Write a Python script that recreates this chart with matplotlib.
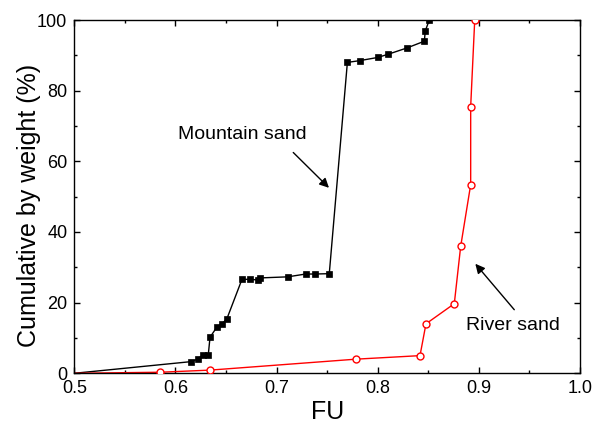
import matplotlib
matplotlib.use('Agg')
import matplotlib.pyplot as plt
from matplotlib.ticker import MultipleLocator

plt.rcParams['font.family'] = ['Liberation Sans', 'DejaVu Sans']

# --- данные ---
mountain_fu = [0.5, 0.6154, 0.622, 0.6275, 0.6325, 0.6342, 0.6408, 0.6457, 0.6507,
               0.6658, 0.6737, 0.682, 0.684, 0.711, 0.7288, 0.738, 0.7521,
               0.770, 0.7822, 0.800, 0.8102, 0.829, 0.8461, 0.847, 0.851]
mountain_cum = [0.0, 3.3, 4.0, 5.3, 5.3, 10.2, 13.0, 14.0, 15.3,
                26.6, 26.6, 26.4, 27.0, 27.3, 28.1, 28.1, 28.2,
                88.0, 88.5, 89.4, 90.3, 92.1, 94.0, 96.9, 100.0]

river_fu = [0.5, 0.5847, 0.6342, 0.7785, 0.8418, 0.8477, 0.8757, 0.882, 0.8919, 0.8919, 0.8959]
river_cum = [0.0, 0.3, 0.9, 4.0, 5.0, 14.0, 19.7, 35.9, 53.4, 75.5, 100.0]

fig = plt.figure(figsize=(6, 4.23), dpi=100)
ax = fig.add_axes([0.1238, 0.1175, 0.8429, 0.8352])

# линии от (0.5, 0) без маркера в начале
ax.plot(mountain_fu, mountain_cum, color='black', lw=1, zorder=2)
ax.plot(mountain_fu[1:], mountain_cum[1:], ls='none', marker='s', ms=4.8,
        mfc='black', mec='black', mew=0.5, zorder=3)
ax.plot(river_fu, river_cum, color='red', lw=1, zorder=2)
ax.plot(river_fu[1:], river_cum[1:], ls='none', marker='o', ms=5,
        mfc='white', mec='red', mew=1, zorder=3)

ax.set_xlim(0.5, 1.0)
ax.set_ylim(0, 100)
ax.xaxis.set_major_locator(MultipleLocator(0.1))
ax.xaxis.set_minor_locator(MultipleLocator(0.05))
ax.yaxis.set_major_locator(MultipleLocator(20))
ax.yaxis.set_minor_locator(MultipleLocator(10))
ax.set_xticklabels([f'{v:.1f}' for v in ax.get_xticks()])
ax.tick_params(which='both', direction='in', top=True, right=True, labelsize=13, width=1, pad=5)
ax.tick_params(which='major', length=4)
ax.tick_params(which='minor', length=2.5)
for s in ax.spines.values():
    s.set_linewidth(1)

ax.set_xlabel('FU', fontsize=18, labelpad=2)
ax.set_ylabel('Cumulative by weight (%)', fontsize=18)
ax.yaxis.set_label_coords(-0.066, 0.476)

arrow = dict(arrowstyle='-|>', color='black', lw=1, mutation_scale=14, shrinkA=0, shrinkB=0)
ax.text(0.6025, 67.5, 'Mountain sand', fontsize=14, ha='left', va='center')
ax.annotate('', xy=(0.7518, 52.5), xytext=(0.7165, 62.5), arrowprops=arrow)
ax.text(0.8875, 13.5, 'River sand', fontsize=14, ha='left', va='center')
ax.annotate('', xy=(0.8965, 31.0), xytext=(0.935, 18.0), arrowprops=arrow)

fig.savefig('out.png', dpi=100)
